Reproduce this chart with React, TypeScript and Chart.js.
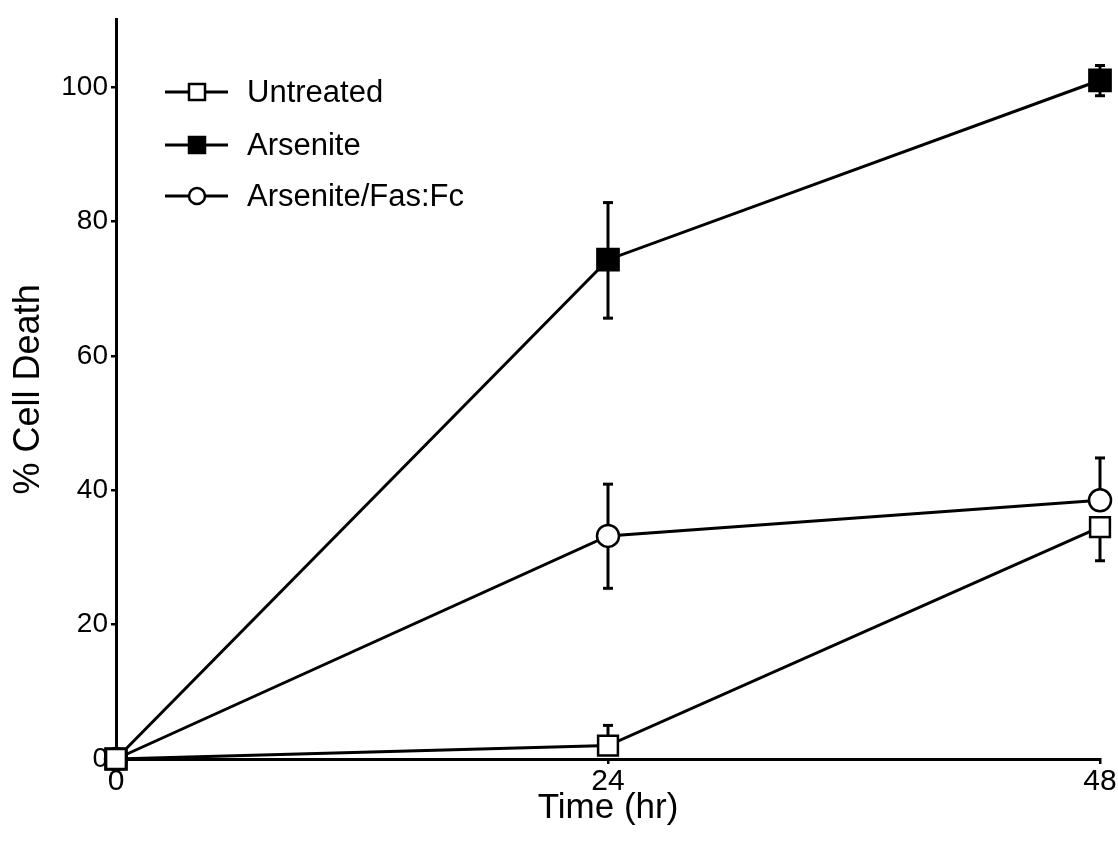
import React, { useEffect, useRef } from "react";
import { Chart, registerables } from "chart.js";

Chart.register(...registerables);

const timeHours = [0, 24, 48];
const xTickValues = [0, 24, 48];
const yTickValues = [0, 20, 40, 60, 80, 100];

const seriesNames = ["Untreated", "Arsenite", "Arsenite/Fas:Fc"];
const untreated = [0, 2, 34.5];
const untreatedErrUp = [0, 3, 0];
const untreatedErrDown = [0, 0, 5];
const arsenite = [0, 74.3, 101];
const arseniteErrUp = [0, 8.5, 2.2];
const arseniteErrDown = [0, 8.7, 2.3];
const fasFc = [0, 33.2, 38.5];
const fasFcErrUp = [0, 7.7, 6.3];
const fasFcErrDown = [0, 7.8, 0];

const FONT = "'Liberation Sans', Arial, Helvetica, sans-serif";

const errorBarPlugin = {
  id: "errorBars",
  beforeDatasetsDraw(chart: any) {
    const ctx = chart.ctx;
    const xs = chart.scales.x;
    const ys = chart.scales.y;
    ctx.save();
    ctx.strokeStyle = "#000";
    ctx.lineWidth = 3;
    chart.data.datasets.forEach((ds: any) => {
      ds.data.forEach((pt: any, i: number) => {
        const x = xs.getPixelForValue(pt.x);
        const up = ds.errUp[i];
        const down = ds.errDown[i];
        const cap = 5;
        const draw = (v: number) => {
          const y0 = ys.getPixelForValue(pt.y);
          const y1 = ys.getPixelForValue(v);
          ctx.beginPath();
          ctx.moveTo(x, y0);
          ctx.lineTo(x, y1);
          ctx.stroke();
          ctx.beginPath();
          ctx.moveTo(x - cap, y1);
          ctx.lineTo(x + cap, y1);
          ctx.stroke();
        };
        if (up > 0) draw(pt.y + up);
        if (down > 0) draw(pt.y - down);
      });
    });
    ctx.restore();
  },
};

const legendPlugin = {
  id: "customLegend",
  afterDraw(chart: any) {
    const ctx = chart.ctx;
    ctx.save();
    const startX = 165;
    const endX = 228;
    const markX = 197;
    const textX = 247;
    const rows = [92, 145, 196];
    chart.data.datasets.forEach((ds: any, i: number) => {
      const y = rows[i];
      ctx.strokeStyle = "#000";
      ctx.lineWidth = 3;
      ctx.beginPath();
      ctx.moveTo(startX, y);
      ctx.lineTo(endX, y);
      ctx.stroke();
      ctx.fillStyle = ds.pointBackgroundColor;
      ctx.lineWidth = 2.5;
      if (ds.pointStyle === "rect") {
        const s = 8;
        ctx.beginPath();
        ctx.rect(markX - s, y - s, 2 * s, 2 * s);
        ctx.fill();
        ctx.stroke();
      } else {
        ctx.beginPath();
        ctx.arc(markX, y, 8, 0, Math.PI * 2);
        ctx.fill();
        ctx.stroke();
      }
      ctx.fillStyle = "#000";
      ctx.font = `31px ${FONT}`;
      ctx.textBaseline = "middle";
      ctx.textAlign = "left";
      ctx.fillText(ds.label, textX, y + 1);
    });
    ctx.restore();
  },
};

function toPoints(values: number[]) {
  return values.map((v, i) => ({ x: timeHours[i], y: v }));
}

export default function App() {
  const canvasRef = useRef<HTMLCanvasElement | null>(null);

  useEffect(() => {
    if (!canvasRef.current) return;
    const common = {
      borderColor: "#000",
      borderWidth: 3,
      pointBorderColor: "#000",
      pointBorderWidth: 2.5,
      clip: false as any,
      tension: 0,
    };
    const chart = new Chart(canvasRef.current, {
      type: "line",
      data: {
        datasets: [
          {
            ...common,
            label: seriesNames[0],
            data: toPoints(untreated),
            errUp: untreatedErrUp,
            errDown: untreatedErrDown,
            pointStyle: "rect",
            pointRadius: 14,
            pointBackgroundColor: "#fff",
          } as any,
          {
            ...common,
            label: seriesNames[1],
            data: toPoints(arsenite),
            errUp: arseniteErrUp,
            errDown: arseniteErrDown,
            pointStyle: "rect",
            pointRadius: 15,
            pointBackgroundColor: "#000",
          } as any,
          {
            ...common,
            label: seriesNames[2],
            data: toPoints(fasFc),
            errUp: fasFcErrUp,
            errDown: fasFcErrDown,
            pointStyle: "circle",
            pointRadius: 11,
            pointBackgroundColor: "#fff",
          } as any,
        ],
      },
      options: {
        animation: false,
        responsive: false,
        maintainAspectRatio: false,
        layout: { padding: { top: 15, right: 18, left: 0, bottom: 0 } },
        plugins: {
          legend: { display: false },
          tooltip: { enabled: false },
        },
        scales: {
          x: {
            type: "linear",
            min: 0,
            max: 48,
            afterBuildTicks(scale: any) {
              scale.ticks = xTickValues.map((v) => ({ value: v }));
            },
            afterFit(scale: any) {
              scale.height = 85;
            },
            border: { display: true, color: "#000", width: 3 },
            grid: {
              display: true,
              drawOnChartArea: false,
              drawTicks: true,
              tickLength: 5,
              color: "#000",
              lineWidth: 2.5,
            },
            ticks: {
              color: "#000",
              padding: 0,
              font: { family: FONT, size: 30 },
              maxRotation: 0,
            },
            title: {
              display: true,
              text: "Time (hr)",
              color: "#000",
              font: { family: FONT, size: 35, lineHeight: 1 },
              padding: { top: 0, bottom: 18 },
            },
          },
          y: {
            type: "linear",
            min: 0,
            max: 110,
            afterBuildTicks(scale: any) {
              scale.ticks = yTickValues.map((v) => ({ value: v }));
            },
            afterFit(scale: any) {
              scale.width = 116;
            },
            border: { display: true, color: "#000", width: 3 },
            grid: {
              display: true,
              drawOnChartArea: false,
              drawTicks: true,
              tickLength: 5,
              color: "#000",
              lineWidth: 2.5,
            },
            ticks: {
              color: "#000",
              padding: 3,
              font: { family: FONT, size: 28 },
            },
            title: {
              display: true,
              text: "% Cell Death",
              color: "#000",
              font: { family: FONT, size: 36, lineHeight: 1 },
              padding: { top: 11, bottom: 0 },
            },
          },
        },
      },
      plugins: [errorBarPlugin, legendPlugin],
    });
    return () => chart.destroy();
  }, []);

  return (
    <div style={{ position: "fixed", left: 0, top: 0, width: 1118, height: 844, background: "#fff" }}>
      <canvas ref={canvasRef} width={1118} height={844} style={{ width: 1118, height: 844, display: "block" }} />
    </div>
  );
}
